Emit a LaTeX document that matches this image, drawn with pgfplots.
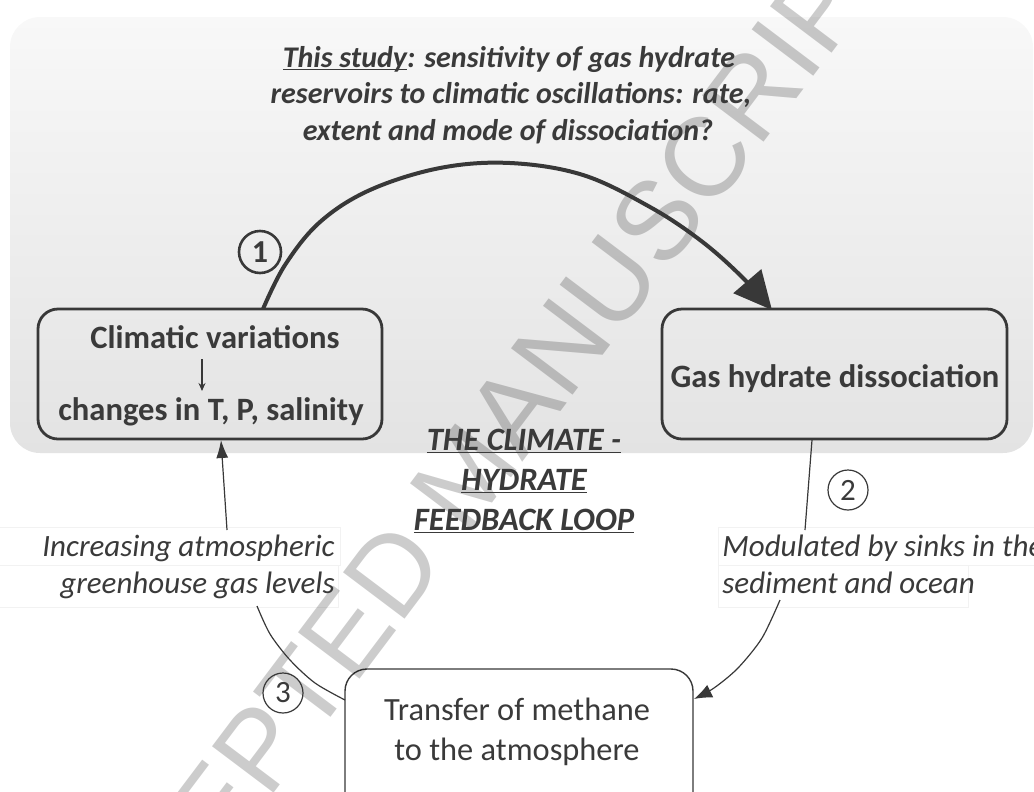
\documentclass[border=0pt]{standalone}
\usepackage{pgfplots}
\pgfplotsset{compat=1.18}
\usepackage{fontspec}
\setmainfont{Carlito}
\newfontfamily\wm{Liberation Sans}
\usetikzlibrary{arrows.meta}
\definecolor{tx}{HTML}{3A3A3A}
\definecolor{ln}{HTML}{383838}
\definecolor{ptop}{HTML}{F8F8F8}
\definecolor{pbot}{HTML}{E3E3E3}
\newcommand{\fs}[1]{\fontsize{#1}{#1}\selectfont}
\newcommand{\ul}[1]{\underline{\smash{#1}}}
\begin{document}
\begin{tikzpicture}
\begin{axis}[scale only axis, width=517bp, height=396bp,
  xmin=0, xmax=1034, ymin=0, ymax=792, y dir=reverse,
  hide axis, clip=false]
% panel
\shade[top color=ptop, bottom color=pbot, rounded corners=15bp]
  (axis cs:10,17) rectangle (axis cs:1033,453);
% boxes
\draw[ln, line width=1.4bp, rounded corners=10bp] (axis cs:38,309) rectangle (axis cs:382,439);
\draw[ln, line width=1.4bp, rounded corners=10bp] (axis cs:662,309) rectangle (axis cs:1007,439);
\draw[ln, line width=0.7bp, rounded corners=11bp] (axis cs:345,669) rectangle (axis cs:693,840);
% white text boxes
\filldraw[fill=white, draw=black!5, line width=0.4bp] (axis cs:-2,527) rectangle (axis cs:340,565);
\filldraw[fill=white, draw=black!5, line width=0.4bp] (axis cs:-2,565) rectangle (axis cs:338,607);
\filldraw[fill=white, draw=black!5, line width=0.4bp] (axis cs:718,527) rectangle (axis cs:1040,565);
\filldraw[fill=white, draw=black!5, line width=0.4bp] (axis cs:718,565) rectangle (axis cs:968,607);
% watermark
\node[rotate=53, text=black, text opacity=0.2, font=\wm\fs{56bp}, inner sep=0] at (axis cs:466,474) {ACCEPTED MANUSCRIPT};
% title
\node[anchor=base, text=tx, font=\fs{15bp}\bfseries\itshape, inner sep=0] at (axis cs:509,67) {\ul{This study}: sensitivity of gas hydrate};
\node[anchor=base, text=tx, font=\fs{15bp}\bfseries\itshape, inner sep=0] at (axis cs:511,103) {reservoirs to climatic oscillations: rate,};
\node[anchor=base, text=tx, font=\fs{15bp}\bfseries\itshape, inner sep=0] at (axis cs:508,140) {extent and mode of dissociation?};
% box texts
\node[anchor=base, text=tx, font=\fs{16.3bp}\bfseries, inner sep=0] at (axis cs:215,348) {Climatic variations};
\draw[ln, line width=0.6bp, -{Stealth[length=4bp,width=3.5bp]}] (axis cs:202,359) -- (axis cs:202,391);
\node[anchor=base, text=tx, font=\fs{16.3bp}\bfseries, inner sep=0] at (axis cs:211,420) {changes in T, P, salinity};
\node[anchor=base, text=tx, font=\fs{16.3bp}\bfseries, inner sep=0] at (axis cs:835,387) {Gas hydrate dissociation};
\node[anchor=base, text=tx, font=\fs{16.2bp}, inner sep=0] at (axis cs:517,720) {Transfer of methane};
\node[anchor=base, text=tx, font=\fs{16.2bp}, inner sep=0] at (axis cs:517,760) {to the atmosphere};
% arc 1
\addplot[ln, line width=2bp, smooth, tension=0.6, -{Triangle[length=19bp,width=18bp]}] coordinates {
 (263,309) (285,265) (320,222) (370,190) (440,168) (510,163) (583,175) (650,207) (700,240) (740,275) (772,310)};
\node[circle, draw=ln, line width=1.3bp, minimum size=21bp, inner sep=0, text=tx, font=\fs{16bp}\bfseries] at (axis cs:260,252) {1};
% line 2
\addplot[ln, line width=0.6bp] coordinates {(812,440) (805,530)};
\node[circle, draw=ln, line width=0.6bp, minimum size=20bp, inner sep=0, text=tx, font=\fs{15.5bp}] at (axis cs:848,490) {2};
\addplot[ln, line width=0.6bp, smooth, -{Latex[length=9bp,width=7bp]}] coordinates {
 (780,600) (762,638) (738,668) (714,688) (694,699)};
% line 3
\addplot[ln, line width=0.6bp, smooth] coordinates {
 (257,606) (270,634) (290,660) (315,683) (345,700)};
\node[circle, draw=ln, line width=0.6bp, minimum size=20bp, inner sep=0, text=tx, font=\fs{15.5bp}] at (axis cs:283,693) {3};
\addplot[ln, line width=0.6bp, -{Latex[length=9bp,width=6bp]}] coordinates {(227,530) (221,440)};
% side texts
\node[anchor=base east, text=tx, font=\fs{15.5bp}\itshape, inner sep=0] at (axis cs:335,556) {Increasing atmospheric};
\node[anchor=base east, text=tx, font=\fs{15.5bp}\itshape, inner sep=0] at (axis cs:335,593) {greenhouse gas levels};
\node[anchor=base west, text=tx, font=\fs{15.5bp}\itshape, inner sep=0] at (axis cs:722,556) {Modulated by sinks in the};
\node[anchor=base west, text=tx, font=\fs{15.5bp}\itshape, inner sep=0] at (axis cs:722,593) {sediment and ocean};
% center text
\node[anchor=base, text=tx, font=\fs{16.3bp}\bfseries\itshape, inner sep=0] at (axis cs:524,450) {\ul{THE CLIMATE -}};
\node[anchor=base, text=tx, font=\fs{16.3bp}\bfseries\itshape, inner sep=0] at (axis cs:524,490) {\ul{HYDRATE}};
\node[anchor=base, text=tx, font=\fs{16.3bp}\bfseries\itshape, inner sep=0] at (axis cs:524,530) {\ul{FEEDBACK LOOP}};
\end{axis}
\pgfresetboundingbox
\useasboundingbox (current axis.south west) rectangle (current axis.north east);
\end{tikzpicture}
\end{document}
